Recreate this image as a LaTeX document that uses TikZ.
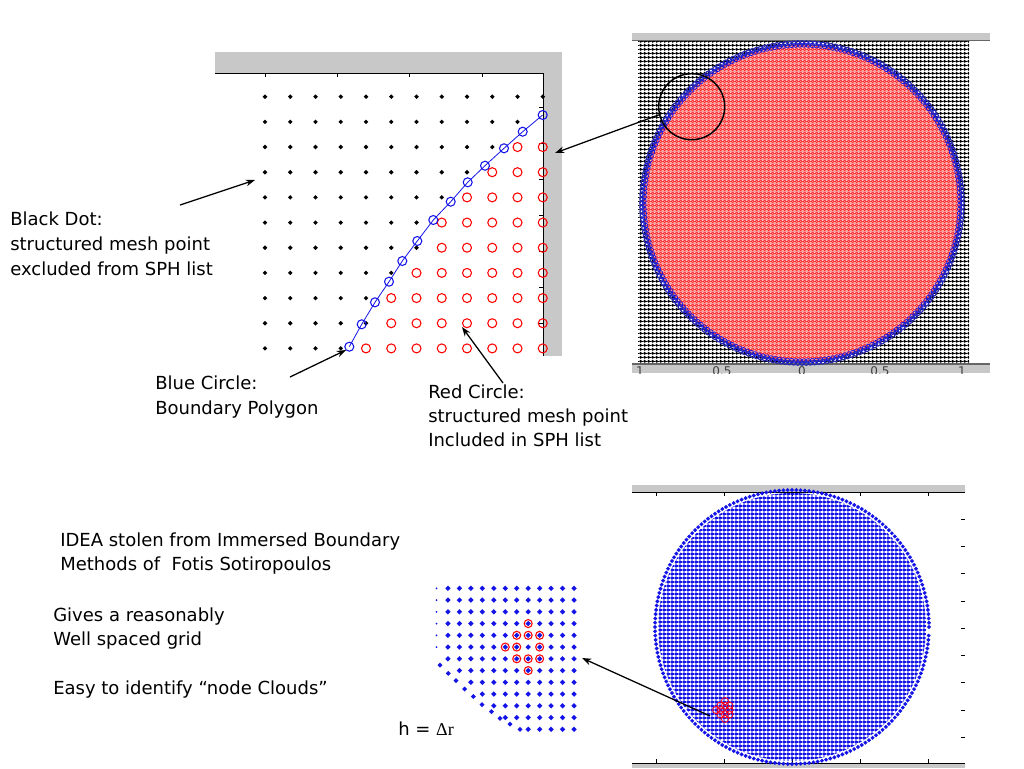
\documentclass[tikz,border=0pt]{standalone}
\usepackage{fontspec}
\setmainfont{DejaVu Sans}
\newfontfamily\timesf{Liberation Serif}
\usetikzlibrary{arrows.meta,patterns.meta}
\definecolor{axgray}{RGB}{200,200,200}
\definecolor{pinkfill}{RGB}{248,155,155}
\definecolor{mblue}{RGB}{20,20,230}
\definecolor{ringblue}{RGB}{40,40,170}
\tikzdeclarepattern{
  name=blackdots, type=colored,
  bounding box={(0pt,0pt) and (3.075pt,3.075pt)},
  tile size={(3.075pt,3.075pt)},
  code={\fill[black] (1.5375pt,0.1pt) -- (2.975pt,1.5375pt) -- (1.5375pt,2.975pt) -- (0.1pt,1.5375pt) -- cycle;}
}
\tikzdeclarepattern{
  name=redcircs, type=colored,
  bounding box={(0pt,0pt) and (3.075pt,3.075pt)},
  tile size={(3.075pt,3.075pt)},
  code={\draw[red,line width=0.35pt] (1.5375pt,1.5375pt) circle (1.2pt);}
}
\tikzdeclarepattern{
  name=bluedots, type=colored,
  bounding box={(0pt,0pt) and (3.3375pt,3.3375pt)},
  tile size={(3.3375pt,3.3375pt)},
  code={\fill[mblue] (1.66875pt,0.05pt) -- (3.29pt,1.66875pt) -- (1.66875pt,3.29pt) -- (0.05pt,1.66875pt) -- cycle;}
}
\begin{document}
\begin{tikzpicture}[x=0.75pt,y=-0.75pt,
  lbl/.style={anchor=base west,inner sep=0pt,font=\fontsize{13.5}{16}\selectfont},
  arr/.style={-{Stealth[length=7pt,width=5pt]},line width=0.95pt},
  bar/.style={fill=axgray,draw=none},
  axis/.style={line width=0.7pt},
  bdot/.style={fill=black},
  rcirc/.style={draw=red,line width=0.8pt},
  bcirc/.style={draw=mblue,line width=0.8pt},
]
\useasboundingbox (0,0) rectangle (1024,768);

% ================= top-left panel =================
\fill[bar] (215,52) rectangle (562,73);
\fill[bar] (543,73) rectangle (562,356);
\draw[axis] (215,73) -- (543,73) -- (543,356);
\foreach \x in {265,337,409,482} \draw[axis] (\x,73) -- (\x,77);
\foreach \y in {107,143,179,215,251,287,323} \draw[axis] (543,\y) -- (539,\y);

\foreach \j/\n/\r in {0/11/12,1/10/12,2/9/10,3/8/9,4/7/8,5/6/7,6/6/7,7/5/6,8/4/5,9/4/5,10/3/4} {
  \foreach \i in {0,...,\n}
    \fill[bdot] ({265+25.25*\i},{96.7+25.17*\j}) +(-2.3,0) -- +(0,-2.3) -- +(2.3,0) -- +(0,2.3) -- cycle;
  \ifnum\r<12
    \foreach \i in {\r,...,11}
      \draw[rcirc] ({265+25.25*\i},{96.7+25.17*\j}) circle (4.5);
  \fi
}
\draw[mblue,line width=0.6pt] plot coordinates {(349.3,346.7) (361.7,324.3) (375,302.3) (389,281.7) (402.3,261) (417.3,241) (433.3,220) (450.7,201.7) (467.7,182.3) (485,165.7) (504,148.3) (522.7,131.7) (542.7,115)};
\foreach \x/\y in {349.3/346.7,361.7/324.3,375/302.3,389/281.7,402.3/261,417.3/241,433.3/220,450.7/201.7,467.7/182.3,485/165.7,504/148.3,522.7/131.7,542.7/115}
  \draw[bcirc] (\x,\y) circle (4.5);

% ================= top-right panel =================
\fill[bar] (632,33) rectangle (990,40);
\draw[black!60,line width=0.8pt] (632,40.5) -- (990,40.5);
\fill[bar] (632,364) rectangle (990,373);
\draw[black!60,line width=0.8pt] (632,364) -- (990,364);
\begin{scope}
  \clip (632,364.5) rectangle (990,373);
  \foreach \x/\t in {640/1,722/0.5,802/0,880/0.5,962/1}
    \node[anchor=north,inner sep=0pt,font=\fontsize{9}{9}\selectfont,text=black!75] at (\x,366) {\t};
\end{scope}
\fill[pattern=blackdots] (638,41) rectangle (969,363.5);
\fill[pinkfill] (802,203) circle (159);
\fill[pattern=redcircs] (802,203) circle (158);
\foreach \a in {0,1.5,...,358.5}
  \draw[ringblue,line width=0.9pt] ({802+160*cos(\a)},{203-160*sin(\a)}) circle (2.3);
\foreach \a in {0.75,2.25,...,359.25}
  \draw[mblue,line width=0.5pt] ({802+158*cos(\a)},{203-158*sin(\a)}) circle (2.3);
\node[draw,circle,line width=1.1pt,minimum size=49.5pt,inner sep=0pt] (zoomc) at (691.7,106.7) {};

% ================= bottom-right panel =================
\fill[bar] (632,485) rectangle (965,492);
\draw[axis] (632,492) -- (965,492);
\fill[bar] (632,763) rectangle (965,768);
\draw[axis] (632,763) -- (965,763);
\foreach \x in {656.7,724.7,792.7,860.7,928.7} {
  \draw[axis] (\x,492) -- (\x,496);
  \draw[axis] (\x,763) -- (\x,759);
}
\foreach \k in {0,...,8} \draw[axis] (961,{519.3+27.25*\k}) -- (965,{519.3+27.25*\k});
\fill[pattern=bluedots] (792,627) circle (134);
\foreach \a in {0,1.8,...,358.2}
  \fill[mblue] ({792+137*cos(\a)},{627-137*sin(\a)}) +(-2.1,0) -- +(0,-2.1) -- +(2.1,0) -- +(0,2.1) -- cycle;
\foreach \dx/\dy in {0/-2,-1/-1,0/-1,1/-1,-2/0,-1/0,1/0,-1/1,0/1,1/1,0/2}
  \draw[red!90!magenta,line width=0.6pt] ({725+4.45*\dx},{710+4.45*\dy}) circle (3.6);

% ================= bottom-left small panel =================
\foreach \r in {0,...,5} {
  \fill[mblue] (436.5,{588.3+11.75*\r}) circle (1);
  \foreach \c in {1,...,12}
    \fill[mblue] ({436.5+11.46*\c},{588.3+11.75*\r}) +(-2.7,0) -- +(0,-2.7) -- +(2.7,0) -- +(0,2.7) -- cycle;
}
\foreach \r/\s in {6/1,7/2,8/3,9/4,10/5,11/6,12/8}
  \foreach \c in {\s,...,12}
    \fill[mblue] ({436.5+11.46*\c},{588.3+11.75*\r}) +(-2.7,0) -- +(0,-2.7) -- +(2.7,0) -- +(0,2.7) -- cycle;
\foreach \x/\y in {440/665,448.3/673.3,456/680.5,464.7/689,473.3/696.5,482/704.6,491.5/711.5,500/718.3,510/724,520/729.3}
  \fill[mblue] (\x,\y) +(-2.5,0) -- +(0,-2.5) -- +(2.5,0) -- +(0,2.5) -- cycle;
\foreach \c/\r in {8/3,7/4,8/4,9/4,6/5,7/5,9/5,7/6,8/6,9/6,8/7}
  \draw[red,line width=0.8pt] ({436.5+11.46*\c},{588.3+11.75*\r}) circle (4);

% ================= labels =================
\node[lbl] (bd1) at (10,225) {Black Dot:};
\node[lbl] (bd2) at (10,250) {structured mesh point};
\node[lbl] (bd3) at (10,275) {excluded from SPH list};
\node[lbl] (bc1) at (155,389) {Blue Circle:};
\node[lbl] (bc2) at (155,414) {Boundary Polygon};
\node[lbl] (rc1) at (428,398) {Red Circle:};
\node[lbl] (rc2) at (428,422) {structured mesh point};
\node[lbl] (rc3) at (428,446) {Included in SPH list};
\node[lbl] (id1) at (60,546) {IDEA stolen from Immersed Boundary};
\node[lbl] (id2) at (60,570) {Methods of\ \ Fotis Sotiropoulos};
\node[lbl] (gv1) at (53,621) {Gives a reasonably};
\node[lbl] (gv2) at (53,645) {Well spaced grid};
\node[lbl] (ez) at (53,694) {Easy to identify “node Clouds”};
\node[lbl] (hdr) at (398,735) {h = {\timesf Δr}};

% ================= arrows =================
\coordinate (bdtail) at (180,205);
\coordinate (bdhead) at (255,180);
\coordinate (bctail) at (290,377);
\coordinate (bchead) at (346,350);
\coordinate (rctail) at (503,383);
\coordinate (rchead) at (462,327);
\coordinate (tlhead) at (555,153);
\coordinate (brtail) at (710,716);
\coordinate (smhead) at (582,658);
\draw[arr] (bdtail) -- (bdhead);
\draw[arr] (bctail) -- (bchead);
\draw[arr] (rctail) -- (rchead);
\draw[arr] (zoomc.194) -- (tlhead);
\draw[arr] (brtail) -- (smhead);
\end{tikzpicture}
\end{document}
